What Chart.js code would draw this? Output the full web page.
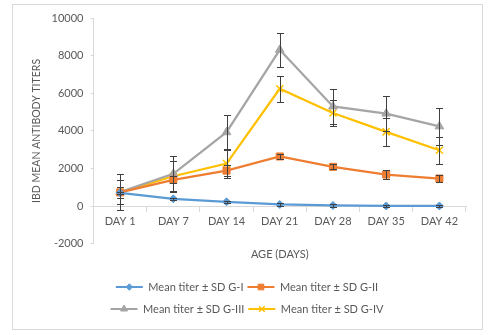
<!DOCTYPE html>
<html>
<head>
<meta charset="utf-8">
<script src="https://cdn.jsdelivr.net/npm/chart.js@4.4.0/dist/chart.umd.min.js"></script>
<style>
  html, body { margin: 0; padding: 0; background: #fff; }
</style>
</head>
<body>
<canvas id="titerChart" width="489" height="335"></canvas>
<script>
// Données
const days = ['DAY 1', 'DAY 7', 'DAY 14', 'DAY 21', 'DAY 28', 'DAY 35', 'DAY 42'];
const yTicks = [-2000, 0, 2000, 4000, 6000, 8000, 10000];

const meanG1 = [710, 390, 230, 90, 40, 10, 10];
const meanG2 = [730, 1400, 1890, 2640, 2090, 1680, 1470];
const meanG3 = [750, 1720, 3930, 8310, 5300, 4920, 4240];
const meanG4 = [740, 1590, 2265, 6240, 4950, 3950, 2970];

const sdG1 = [60, 60, 60, 60, 60, 60, 60];
const sdG2 = [300, 180, 300, 130, 140, 260, 180];
const sdG3 = [950, 970, 920, 900, 930, 950, 980];
const sdG4 = [650, 800, 750, 700, 700, 730, 710];

const textColor = '#595959';
const axisColor = '#d9d9d9';

Chart.defaults.font.family = 'Lato';
Chart.defaults.font.size = 11;
Chart.defaults.color = textColor;

// Cadre gris autour du graphique
const frame = {
    id: 'frame',
    beforeDraw(chart) {
        const ctx = chart.ctx;
        ctx.save();
        ctx.fillStyle = '#fff';
        ctx.fillRect(0, 0, chart.width, chart.height);
        ctx.strokeStyle = axisColor;
        ctx.lineWidth = 1;
        ctx.strokeRect(12.5, 4.5, 470, 325);
        ctx.restore();
    }
};

// Barres d'erreur (moyenne ± SD)
const errorBars = {
    id: 'errorBars',
    afterDatasetsDraw(chart) {
        const { ctx, scales: { x, y } } = chart;
        ctx.save();
        ctx.strokeStyle = '#404040';
        ctx.lineWidth = 1;
        chart.data.datasets.forEach(ds => {
            ds.data.forEach((v, i) => {
                const sd = ds.errors[i];
                const px = Math.round(x.getPixelForValue(i)) + 0.5;
                const top = Math.round(y.getPixelForValue(v + sd)) + 0.5;
                const bot = Math.round(y.getPixelForValue(v - sd)) + 0.5;
                ctx.beginPath();
                ctx.moveTo(px, top); ctx.lineTo(px, bot);
                ctx.moveTo(px - 3.5, top); ctx.lineTo(px + 3.5, top);
                ctx.moveTo(px - 3.5, bot); ctx.lineTo(px + 3.5, bot);
                ctx.stroke();
            });
        });
        ctx.restore();
    }
};

// Légende sur deux lignes + symbole ligne/marqueur
const legendRows = {
    id: 'legendRows',
    beforeLayout(chart) {
        const lg = chart.legend;
        if (lg && !lg._rowPatch) {
            const orig = lg.update.bind(lg);
            lg.update = (w, h, m) => orig(Math.min(w, 300), h, m);
            lg._rowPatch = true;
        }
    },
    afterDraw(chart) {
        const lg = chart.legend;
        const ctx = chart.ctx;
        const boxW = lg.options.labels.boxWidth;
        lg.legendHitBoxes.forEach((hb, i) => {
            const ds = chart.data.datasets[lg.legendItems[i].datasetIndex];
            const cy = hb.top + hb.height / 2;
            ctx.save();
            ctx.strokeStyle = ds.borderColor;
            ctx.fillStyle = ds.pointBackgroundColor;
            ctx.lineWidth = 2;
            ctx.beginPath();
            ctx.moveTo(hb.left - 2, cy);
            ctx.lineTo(hb.left + boxW, cy);
            ctx.stroke();
            ctx.lineWidth = ds.pointBorderWidth || 1;
            Chart.helpers.drawPoint(ctx, {
                pointStyle: ds.pointStyle,
                radius: ds.pointRadius * 0.8,
                rotation: 0,
                borderWidth: ctx.lineWidth
            }, hb.left + boxW / 2 - 1, cy);
            ctx.restore();
        });
    }
};

function serie(label, data, errors, color, style, radius) {
    return {
        label: label,
        data: data,
        errors: errors,
        borderColor: color,
        backgroundColor: color,
        pointBackgroundColor: color,
        pointBorderColor: color,
        pointBorderWidth: style === 'crossRot' ? 1.5 : 1,
        pointStyle: style,
        pointRadius: radius,
        borderWidth: 2.25,
        tension: 0,
        fill: false
    };
}

const ctx = document.getElementById('titerChart').getContext('2d');
const titerChart = new Chart(ctx, {
    type: 'line',
    data: {
        labels: days,
        datasets: [
            serie('Mean titer ± SD G-I', meanG1, sdG1, '#5B9BD5', 'rectRot', 4),
            serie('Mean titer ± SD G-II', meanG2, sdG2, '#ED7D31', 'rect', 5),
            serie('Mean titer ± SD G-III', meanG3, sdG3, '#A5A5A5', 'triangle', 5),
            serie('Mean titer ± SD G-IV', meanG4, sdG4, '#FFC000', 'crossRot', 5)
        ]
    },
    options: {
        responsive: false,
        animation: false,
        layout: { padding: { top: 18, right: 23, bottom: 8, left: 30 } },
        scales: {
            x: {
                type: 'category',
                position: { y: 0 },
                offset: true,
                grid: { offset: true, drawOnChartArea: false, tickLength: 5, color: axisColor },
                border: { color: axisColor },
                ticks: { padding: 4, color: textColor, font: { size: 11 } }
            },
            x2: {
                type: 'category',
                position: 'bottom',
                labels: days,
                offset: true,
                grid: { display: false, drawTicks: false },
                border: { display: false },
                ticks: { display: false },
                title: { display: true, text: 'AGE (DAYS)', color: textColor, font: { size: 11 }, padding: { top: 4, bottom: 12 } }
            },
            y: {
                min: -2000,
                max: 10000,
                afterBuildTicks(axis) { axis.ticks = yTicks.map(v => ({ value: v })); },
                grid: { drawOnChartArea: false, tickLength: 3, color: axisColor },
                border: { color: axisColor },
                ticks: { padding: 7, color: textColor, font: { size: 11 }, callback: v => String(v) },
                title: { display: true, align: 'center', text: 'IBD MEAN ANTIBODY TITERS', color: textColor, font: { size: 10.5 }, padding: { top: 0, bottom: 2 } }
            }
        },
        plugins: {
            tooltip: { enabled: false },
            legend: {
                position: 'bottom',
                labels: {
                    boxWidth: 25,
                    boxHeight: 16,
                    padding: 6,
                    color: textColor,
                    font: { size: 11 },
                    generateLabels(chart) {
                        const items = Chart.defaults.plugins.legend.labels.generateLabels(chart);
                        items.forEach(it => {
                            it.fillStyle = 'rgba(0,0,0,0)';
                            it.strokeStyle = 'rgba(0,0,0,0)';
                            it.lineWidth = 0;
                        });
                        return items;
                    }
                }
            }
        }
    },
    plugins: [frame, errorBars, legendRows]
});
</script>
</body>
</html>
